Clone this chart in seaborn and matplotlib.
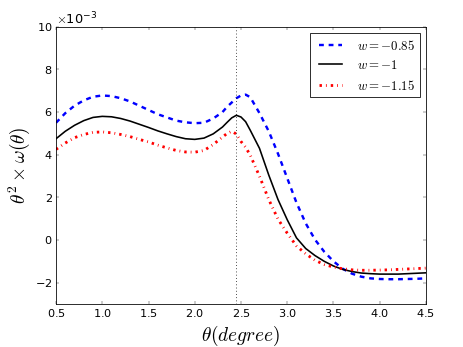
import numpy as np
import pandas as pd
import seaborn as sns
import matplotlib as mpl
import matplotlib.pyplot as plt

# theta in degrees, values in units of 1e-3
theta = [0.5, 0.6, 0.7, 0.8, 0.9, 1.0, 1.1, 1.2, 1.3, 1.4, 1.5, 1.6, 1.7, 1.8, 1.9,
         2.0, 2.1, 2.2, 2.3, 2.35, 2.4, 2.45, 2.5, 2.55, 2.6, 2.7, 2.8, 2.9, 3.0,
         3.1, 3.2, 3.3, 3.4, 3.5, 3.6, 3.7, 3.8, 3.9, 4.0, 4.1, 4.2, 4.3, 4.4, 4.5]

w_085 = [5.5, 5.95, 6.3, 6.55, 6.72, 6.78, 6.75, 6.65, 6.5, 6.3, 6.1, 5.9, 5.75, 5.6, 5.52,
         5.48, 5.5, 5.7, 6.0, 6.25, 6.45, 6.65, 6.78, 6.82, 6.7, 5.95, 5.1, 4.05, 2.9,
         1.75, 0.78, 0.02, -0.55, -1.0, -1.35, -1.58, -1.72, -1.8, -1.83, -1.84, -1.84, -1.83, -1.82, -1.8]

w_1 = [4.75, 5.1, 5.38, 5.6, 5.75, 5.8, 5.78, 5.7, 5.58, 5.43, 5.28, 5.12, 4.98, 4.85, 4.75,
       4.72, 4.78, 4.98, 5.3, 5.52, 5.73, 5.85, 5.77, 5.55, 5.15, 4.3, 3.05, 1.9, 0.95,
       0.1, -0.4, -0.73, -1.0, -1.22, -1.38, -1.48, -1.55, -1.58, -1.6, -1.6, -1.6, -1.58, -1.56, -1.54]

w_115 = [4.25, 4.55, 4.8, 4.95, 5.05, 5.07, 5.03, 4.95, 4.85, 4.72, 4.6, 4.45, 4.32, 4.2, 4.13,
         4.12, 4.2, 4.48, 4.83, 5.0, 5.1, 4.97, 4.62, 4.35, 3.98, 2.99, 1.9, 0.98, 0.32,
         -0.28, -0.65, -0.95, -1.15, -1.27, -1.35, -1.4, -1.42, -1.42, -1.41, -1.4, -1.38, -1.36, -1.34, -1.32]

labels = [r'$w=-0.85$', r'$w=-1$', r'$w=-1.15$']
theta_mark = 2.45
scale = 1e-3

plt.style.use('classic')
mpl.rc('figure', facecolor='white')
mpl.rc('savefig', facecolor='white')
mpl.rc('mathtext', fontset='cm')
mpl.rc('axes.formatter', use_mathtext=True)
mpl.rc('font', family='DejaVu Sans', size=14)

fig, ax = plt.subplots(figsize=(8, 6), dpi=57.875)
fig.subplots_adjust(left=0.121, right=0.920, bottom=0.124, top=0.922)

df = pd.DataFrame({'theta': theta,
                   labels[0]: np.array(w_085) * scale,
                   labels[1]: np.array(w_1) * scale,
                   labels[2]: np.array(w_115) * scale})

sns.lineplot(data=df, x='theta', y=labels[0], ax=ax, color='b', linestyle='--', linewidth=3, label=labels[0])
sns.lineplot(data=df, x='theta', y=labels[1], ax=ax, color='k', linestyle='-', linewidth=2, label=labels[1])
sns.lineplot(data=df, x='theta', y=labels[2], ax=ax, color='r', linestyle='-.', linewidth=3.5, label=labels[2])
ax.axvline(theta_mark, color='k', linestyle=':', linewidth=1)

ax.set_xlim(0.5, 4.5)
ax.set_ylim(-3e-3, 10e-3)
ax.set_xticks(np.arange(0.5, 4.51, 0.5))
ax.set_yticks(np.arange(-2e-3, 10.1e-3, 2e-3))
ax.ticklabel_format(axis='y', style='sci', scilimits=(-3, -3), useMathText=True)
ax.yaxis.get_offset_text().set_fontsize(16)
ax.set_xlabel(r'$\theta(degree)$', fontsize=24)
ax.set_ylabel(r'$\theta^2\times\omega(\theta)$', fontsize=24, labelpad=4)
ax.legend(loc='upper right', fontsize=16, handlelength=2.4, frameon=True)

fig.savefig('out.png', dpi=57.875)
